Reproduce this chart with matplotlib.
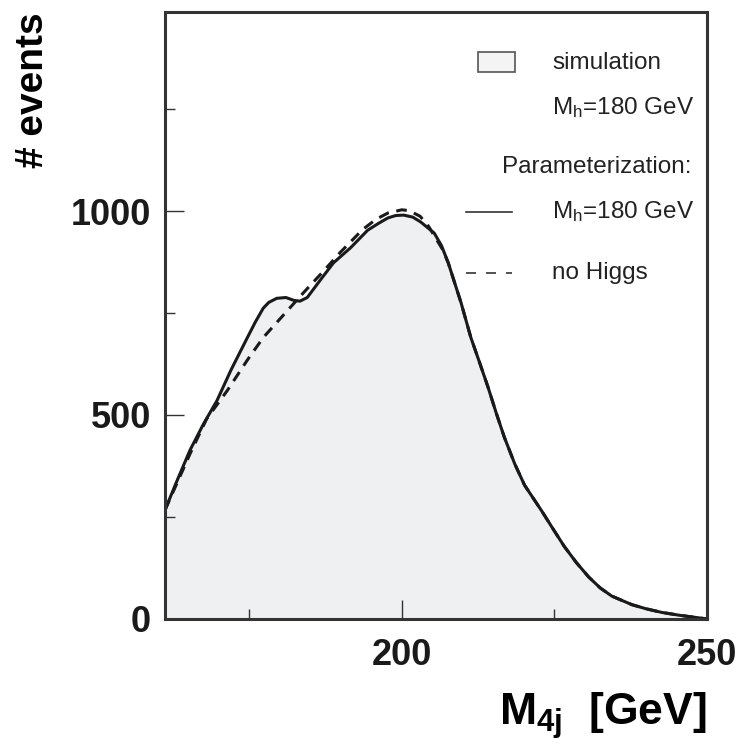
import matplotlib.pyplot as plt
from matplotlib.patches import Rectangle
from matplotlib.lines import Line2D
from matplotlib.ticker import MultipleLocator

plt.rcParams['font.family'] = ['Liberation Sans', 'DejaVu Sans']

# four-jet invariant mass [GeV] and expected counts, Higgs with M_h = 180 GeV
m_higgs = [161.2, 163.0, 165.3, 167.5, 169.7, 172.0, 174.7, 176.0, 177.3,
           178.2, 179.5, 181.0, 182.3, 183.3, 184.5, 186.7, 188.8, 191.6,
           194.4, 196.2, 197.7, 199.0, 200.3, 201.8, 203.1, 205.3, 206.5,
           207.6, 209.7, 211.3, 212.7, 214.1, 215.5, 216.8, 218.5, 220.1,
           222.9, 224.8, 226.6, 228.6, 230.6, 232.5, 234.4, 237.7, 240.0,
           242.6, 245.5, 248.0, 250.0]
n_higgs = [267, 333, 414, 478, 535, 610, 690, 728, 762,
           776, 786, 788, 781, 779, 788, 832, 873, 910,
           953, 970, 983, 989, 990, 985, 973, 946, 915,
           873, 775, 690, 630, 569, 503, 445, 380, 328,
           265, 220, 178, 138, 103, 76, 56, 35, 25,
           16, 9, 4, 0]

# parameterization without Higgs
m_nohiggs = [161.2, 165.3, 168.0, 171.4, 174.7, 177.3, 180.6, 183.9,
             187.0, 190.0, 193.6, 195.8, 197.7, 200.0, 201.2, 203.0,
             204.4, 206.7, 207.6, 209.7, 211.3, 212.7, 214.1, 215.5,
             216.8, 218.5, 220.1, 222.9, 224.8, 226.6, 228.6, 230.6,
             232.5, 234.4, 237.7, 240.0, 242.6, 245.5, 248.0, 250.0]
n_nohiggs = [267, 405, 490, 560, 635, 690, 745, 800,
             850, 900, 955, 980, 995, 1003, 1001, 987,
             962, 905, 873, 775, 690, 630, 569, 503,
             445, 380, 328, 265, 220, 178, 138, 103,
             76, 56, 35, 25, 16, 9, 4, 0]

fig = plt.figure(figsize=(7.41, 7.47), dpi=100)
ax = fig.add_axes([0.2227, 0.1714, 0.7315, 0.8126])

# simulated spectrum as a light shaded area
ax.fill_between(m_higgs, 0, n_higgs, color='#eef0f2', lw=0)
ax.plot(m_higgs, n_higgs, color='#1a1a1a', lw=2.2, solid_joinstyle='round')
ax.plot(m_nohiggs, n_nohiggs, color='#1a1a1a', lw=2.2, dashes=(3.5, 2.5))

ax.set_xlim(161.2, 250)
ax.set_ylim(0, 1488)

ax.xaxis.set_major_locator(MultipleLocator(50))
ax.xaxis.set_minor_locator(MultipleLocator(25))
ax.yaxis.set_major_locator(MultipleLocator(500))
ax.yaxis.set_minor_locator(MultipleLocator(250))
ax.tick_params(which='both', direction='in', width=1.0, colors='#333333',
               labelcolor='#1a1a1a', labelsize=26)
ax.tick_params(which='major', length=14)
ax.tick_params(which='minor', length=7)
ax.tick_params(axis='x', pad=14)
ax.tick_params(axis='y', pad=10)
for lab in ax.get_xticklabels() + ax.get_yticklabels():
    lab.set_fontweight('bold')
for sp in ax.spines.values():
    sp.set_linewidth(2.2)
    sp.set_color('#333333')

ax.set_xlabel(r'$\mathregular{M_{4j}}$  [GeV]', fontsize=32, fontweight='bold',
              loc='right', labelpad=12)
ax.set_ylabel('# events', fontsize=28, fontweight='bold', loc='top', labelpad=14)

# legend block
ax.add_patch(Rectangle((0.577, 0.901), 0.069, 0.033, transform=ax.transAxes,
                       facecolor='#f4f4f4', edgecolor='#555555', lw=1.2))
ax.add_line(Line2D([0.555, 0.640], [0.671, 0.671], transform=ax.transAxes,
                   color='#333333', lw=1.2))
ax.add_line(Line2D([0.555, 0.640], [0.570, 0.570], transform=ax.transAxes,
                   color='#333333', lw=1.2, dashes=(6, 6)))
legend_txt = dict(transform=ax.transAxes, fontsize=17.5, color='#222222',
                  va='center', ha='left')
ax.text(0.714, 0.916, 'simulation', **legend_txt)
ax.text(0.714, 0.843, r'$\mathregular{M_h}$=180 GeV', **legend_txt)
ax.text(0.622, 0.745, 'Parameterization:', **legend_txt)
ax.text(0.714, 0.671, r'$\mathregular{M_h}$=180 GeV', **legend_txt)
ax.text(0.714, 0.570, 'no Higgs', **legend_txt)

fig.savefig('out.png', dpi=100)
